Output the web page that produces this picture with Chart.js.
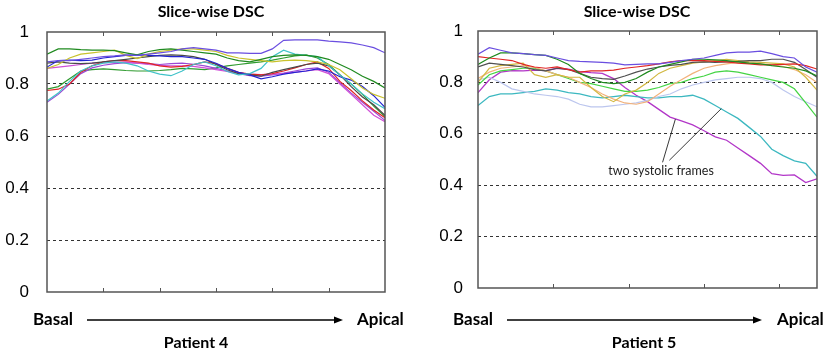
<!DOCTYPE html>
<html>
<head>
<meta charset="utf-8">
<script src="https://cdn.jsdelivr.net/npm/chart.js@4.4.0/dist/chart.umd.min.js"></script>
<style>
  body { margin: 0; background: #fff; }
  #wrap { position: relative; width: 827px; height: 356px; }
  .panel { position: absolute; top: 0; height: 356px; }
  #p4 { left: 0; width: 413px; }
  #p5 { left: 413px; width: 414px; }
</style>
</head>
<body>
<div id="wrap">
  <div class="panel" id="p4"><canvas id="chart4"></canvas></div>
  <div class="panel" id="p5"><canvas id="chart5"></canvas></div>
</div>
<script>
// Slice positions, basal -> apical
const slices4 = [0,2,4,6,8,10,12,14,16,18,20,22,24,26,28,30,32,34,36,38,40,42,44,46,48,50,52,54,56,58,60];
const slices5 = [0,1.5,3,4.5,6,7.5,9,10.5,12,13.5,15,16.5,18,19.5,21,22.5,24,25.5,27,28.5,30,31.5,33,34.5,36,37.5,39,40.5,42,43.5,45];
const xTicks4 = [10,20,30,40,50];
const xTicks5 = [10,20,30,40];
const yTicks = [0,0.2,0.4,0.6,0.8,1];
const yTickLabels = ['0','0.2','0.4','0.6','0.8','1'];

// Patient 4 - DSC per slice, one array per frame
const p4Violet = [0.885,0.89,0.89,0.895,0.9,0.905,0.908,0.912,0.91,0.915,0.92,0.925,0.935,0.94,0.935,0.93,0.92,0.92,0.918,0.918,0.935,0.968,0.97,0.97,0.97,0.965,0.962,0.958,0.95,0.94,0.92];
const p4DarkGreen = [0.915,0.935,0.935,0.932,0.93,0.93,0.928,0.92,0.912,0.925,0.932,0.935,0.93,0.925,0.92,0.915,0.9,0.89,0.885,0.895,0.905,0.91,0.912,0.91,0.905,0.895,0.875,0.855,0.83,0.81,0.785];
const p4Green = [0.78,0.79,0.82,0.85,0.855,0.858,0.855,0.852,0.85,0.85,0.852,0.855,0.86,0.858,0.855,0.862,0.87,0.875,0.88,0.885,0.892,0.9,0.908,0.912,0.9,0.875,0.835,0.8,0.76,0.715,0.675];
const p4Yellow = [0.86,0.875,0.9,0.915,0.92,0.925,0.93,0.91,0.898,0.915,0.925,0.93,0.935,0.935,0.93,0.925,0.91,0.9,0.895,0.89,0.885,0.89,0.892,0.89,0.885,0.875,0.855,0.82,0.785,0.76,0.745];
const p4Cyan = [0.735,0.765,0.81,0.85,0.87,0.88,0.885,0.88,0.87,0.85,0.838,0.832,0.85,0.875,0.885,0.87,0.848,0.835,0.84,0.86,0.905,0.93,0.915,0.91,0.905,0.87,0.835,0.8,0.762,0.73,0.705];
const p4Red = [0.775,0.78,0.8,0.845,0.87,0.885,0.89,0.89,0.885,0.88,0.87,0.865,0.868,0.875,0.885,0.878,0.86,0.845,0.838,0.835,0.84,0.85,0.862,0.875,0.885,0.86,0.81,0.775,0.735,0.7,0.67];
const p4Orchid = [0.86,0.865,0.87,0.875,0.88,0.882,0.882,0.885,0.88,0.875,0.872,0.87,0.87,0.868,0.862,0.855,0.848,0.842,0.838,0.836,0.838,0.84,0.845,0.85,0.855,0.84,0.8,0.76,0.72,0.68,0.655];
const p4Blue = [0.865,0.89,0.892,0.89,0.892,0.9,0.905,0.91,0.912,0.91,0.908,0.905,0.905,0.9,0.895,0.88,0.86,0.845,0.835,0.82,0.828,0.838,0.845,0.85,0.858,0.85,0.828,0.815,0.79,0.755,0.71];
const p4Gray = [0.88,0.885,0.88,0.878,0.88,0.885,0.89,0.895,0.9,0.905,0.91,0.912,0.91,0.905,0.895,0.875,0.855,0.84,0.835,0.83,0.845,0.855,0.865,0.875,0.88,0.87,0.835,0.79,0.75,0.72,0.68];
const p4Purple = [0.73,0.76,0.8,0.84,0.862,0.872,0.878,0.882,0.88,0.878,0.875,0.878,0.88,0.876,0.87,0.86,0.85,0.84,0.832,0.83,0.835,0.842,0.85,0.858,0.862,0.845,0.805,0.765,0.73,0.695,0.66];

// Patient 5
const p5Magenta = [0.76,0.81,0.84,0.846,0.845,0.848,0.846,0.855,0.852,0.842,0.838,0.835,0.815,0.78,0.75,0.725,0.695,0.665,0.65,0.635,0.612,0.588,0.575,0.545,0.515,0.485,0.445,0.438,0.44,0.41,0.425];
const p5Cyan = [0.71,0.745,0.755,0.755,0.76,0.765,0.775,0.77,0.76,0.755,0.745,0.74,0.745,0.75,0.745,0.74,0.74,0.745,0.745,0.75,0.735,0.71,0.685,0.66,0.625,0.59,0.54,0.515,0.495,0.485,0.435];
const p5Violet = [0.91,0.935,0.925,0.915,0.912,0.908,0.905,0.895,0.885,0.882,0.88,0.878,0.875,0.868,0.87,0.872,0.872,0.878,0.885,0.89,0.895,0.905,0.915,0.918,0.918,0.922,0.912,0.9,0.895,0.86,0.84];
const p5DarkGreen = [0.87,0.895,0.915,0.915,0.912,0.908,0.905,0.89,0.87,0.835,0.815,0.8,0.795,0.8,0.815,0.84,0.86,0.87,0.88,0.89,0.89,0.888,0.885,0.88,0.875,0.872,0.865,0.86,0.855,0.845,0.825];
const p5Red = [0.9,0.895,0.89,0.885,0.87,0.86,0.855,0.86,0.85,0.84,0.845,0.845,0.848,0.855,0.86,0.865,0.872,0.88,0.885,0.885,0.885,0.882,0.88,0.875,0.872,0.868,0.868,0.87,0.872,0.865,0.852];
const p5Gray = [0.86,0.875,0.87,0.865,0.86,0.85,0.845,0.855,0.85,0.835,0.82,0.815,0.812,0.825,0.84,0.852,0.86,0.866,0.87,0.878,0.88,0.878,0.88,0.882,0.885,0.885,0.89,0.89,0.878,0.85,0.82];
const p5Green = [0.79,0.83,0.845,0.85,0.855,0.855,0.845,0.83,0.815,0.8,0.795,0.785,0.775,0.765,0.765,0.77,0.78,0.795,0.8,0.815,0.825,0.84,0.845,0.84,0.83,0.82,0.81,0.8,0.775,0.72,0.665];
const p5Yellow = [0.8,0.855,0.865,0.87,0.875,0.83,0.82,0.83,0.82,0.82,0.78,0.745,0.725,0.755,0.77,0.8,0.835,0.855,0.865,0.875,0.88,0.885,0.89,0.885,0.88,0.878,0.875,0.872,0.86,0.82,0.77];
const p5Peach = [0.815,0.84,0.855,0.86,0.865,0.858,0.845,0.83,0.82,0.8,0.78,0.755,0.735,0.72,0.715,0.725,0.755,0.785,0.81,0.835,0.855,0.865,0.872,0.878,0.876,0.872,0.868,0.862,0.85,0.83,0.8];
const p5Lavender = [0.81,0.82,0.8,0.775,0.765,0.755,0.75,0.745,0.735,0.715,0.705,0.705,0.71,0.715,0.72,0.73,0.745,0.755,0.775,0.79,0.8,0.81,0.815,0.82,0.82,0.815,0.8,0.77,0.745,0.725,0.705];

// annotation: label position and the two points it points at (slice, DSC)
const noteText = 'two systolic frames';
const notePos = [24.3, 0.454];
const noteFrom = [[24.5, 0.489], [25.4, 0.497]];
const noteTo = [[26.2, 0.657], [32.3, 0.698]];

Chart.defaults.font.family = "'Liberation Sans', Arial, sans-serif";
Chart.defaults.color = '#000';

function makeSets(xs, series) {
    return series.map(s => ({
        data: s.values.map((v, i) => ({ x: xs[i], y: v })),
        borderColor: s.color,
        borderWidth: s.width || 1.2,
        pointRadius: 0,
        tension: 0,
        fill: false
    }));
}

// box round the plot area plus the small inward tick marks
const framePlugin = {
    id: 'frame',
    afterDatasetsDraw(chart, args, opts) {
        const { ctx, chartArea: a, scales: { x } } = chart;
        ctx.save();
        ctx.strokeStyle = '#555';
        ctx.lineWidth = 1.5;
        ctx.strokeRect(a.left, a.top, a.right - a.left, a.bottom - a.top);
        ctx.lineWidth = 1;
        opts.ticks.forEach(v => {
            const px = Math.round(x.getPixelForValue(v)) + 0.5;
            ctx.beginPath();
            ctx.moveTo(px, a.top); ctx.lineTo(px, a.top + 4);
            ctx.moveTo(px, a.bottom); ctx.lineTo(px, a.bottom - 4);
            ctx.stroke();
        });
        ctx.restore();
    }
};

// title, Basal -> Apical arrow and patient name
const textPlugin = {
    id: 'texts',
    afterDraw(chart, args, o) {
        const ctx = chart.ctx;
        ctx.save();
        ctx.fillStyle = '#000';
        ctx.strokeStyle = '#000';
        ctx.textBaseline = 'middle';
        ctx.font = "bold 16px Lato, 'Open Sans', sans-serif";
        ctx.textAlign = 'center';
        ctx.fillText('Slice-wise DSC', o.titleX, 12);
        ctx.fillText(o.patient, o.patientX, 343);
        ctx.font = "bold 17px Lato, 'Open Sans', sans-serif";
        ctx.textAlign = 'left';
        ctx.fillText('Basal', o.basalX, 320);
        ctx.fillText('Apical', o.apicalX, 320);
        ctx.lineWidth = 1.5;
        ctx.beginPath();
        ctx.moveTo(o.arrowFrom, 320);
        ctx.lineTo(o.arrowTo - 6, 320);
        ctx.stroke();
        ctx.beginPath();
        ctx.moveTo(o.arrowTo, 320);
        ctx.lineTo(o.arrowTo - 9, 316.5);
        ctx.lineTo(o.arrowTo - 9, 323.5);
        ctx.closePath();
        ctx.fill();
        ctx.restore();
    }
};

const notePlugin = {
    id: 'note',
    afterDatasetsDraw(chart, args, o) {
        if (!o.show) return;
        const { ctx, scales: { x, y } } = chart;
        ctx.save();
        ctx.strokeStyle = '#222';
        ctx.lineWidth = 0.9;
        noteFrom.forEach((p, i) => {
            ctx.beginPath();
            ctx.moveTo(x.getPixelForValue(p[0]), y.getPixelForValue(p[1]));
            ctx.lineTo(x.getPixelForValue(noteTo[i][0]), y.getPixelForValue(noteTo[i][1]));
            ctx.stroke();
        });
        ctx.fillStyle = '#222';
        ctx.font = "12.5px Lato, 'Open Sans', sans-serif";
        ctx.textAlign = 'center';
        ctx.textBaseline = 'middle';
        ctx.fillText(noteText, x.getPixelForValue(notePos[0]), y.getPixelForValue(notePos[1]));
        ctx.restore();
    }
};

function buildChart(id, xs, xMax, series, yWidth, tickPad, padding, frameTicks, texts, note) {
    return new Chart(document.getElementById(id), {
        type: 'line',
        data: { datasets: makeSets(xs, series) },
        options: {
            responsive: true,
            maintainAspectRatio: false,
            animation: false,
            layout: { padding: padding },
            plugins: {
                legend: { display: false },
                tooltip: { enabled: false },
                frame: { ticks: frameTicks },
                texts: texts,
                note: { show: note }
            },
            scales: {
                x: { type: 'linear', min: 0, max: xMax, display: false },
                y: {
                    min: 0, max: 1,
                    afterFit: s => { s.width = yWidth; },
                    afterBuildTicks: s => { s.ticks = yTicks.map(v => ({ value: v })); },
                    ticks: {
                        padding: tickPad,
                        font: { size: 17 },
                        color: '#000',
                        callback: (v, i) => yTickLabels[i]
                    },
                    border: { display: false, dash: [3, 3] },
                    grid: {
                        drawTicks: false,
                        lineWidth: 1,
                        color: c => (c.tick && (c.tick.value === 0 || c.tick.value === 1)) ? 'rgba(0,0,0,0)' : '#333'
                    }
                }
            }
        },
        plugins: [framePlugin, textPlugin, notePlugin]
    });
}

buildChart('chart4', slices4, 60, [
    { values: p4Violet, color: '#6a4ee0' },
    { values: p4DarkGreen, color: '#1f8a1f' },
    { values: p4Yellow, color: '#c9c22c' },
    { values: p4Cyan, color: '#3fc2c8' },
    { values: p4Blue, color: '#2323d2' },
    { values: p4Gray, color: '#4a4a4a' },
    { values: p4Red, color: '#e02424' },
    { values: p4Orchid, color: '#d050d8' },
    { values: p4Purple, color: '#9a48d6' },
    { values: p4Green, color: '#2e9a2e' }
], 47, 18, { top: 32, right: 28, bottom: 64, left: 0 }, xTicks4,
   { titleX: 211, patient: 'Patient 4', patientX: 196, basalX: 33, apicalX: 357, arrowFrom: 87, arrowTo: 343 }, false);

buildChart('chart5', slices5, 45, [
    { values: p5Violet, color: '#6a4ee0' },
    { values: p5DarkGreen, color: '#1f8a1f' },
    { values: p5Red, color: '#e02424' },
    { values: p5Gray, color: '#505050' },
    { values: p5Yellow, color: '#d2b840' },
    { values: p5Peach, color: '#f2b27a' },
    { values: p5Green, color: '#44d444' },
    { values: p5Lavender, color: '#bcc6ee' },
    { values: p5Cyan, color: '#3cb8c0', width: 1.3 },
    { values: p5Magenta, color: '#b236c8', width: 1.3 }
], 65, 15, { top: 31, right: 10, bottom: 68, left: 0 }, xTicks5,
   { titleX: 224, patient: 'Patient 5', patientX: 231, basalX: 40, apicalX: 364, arrowFrom: 94, arrowTo: 349 }, true);
</script>
</body>
</html>
